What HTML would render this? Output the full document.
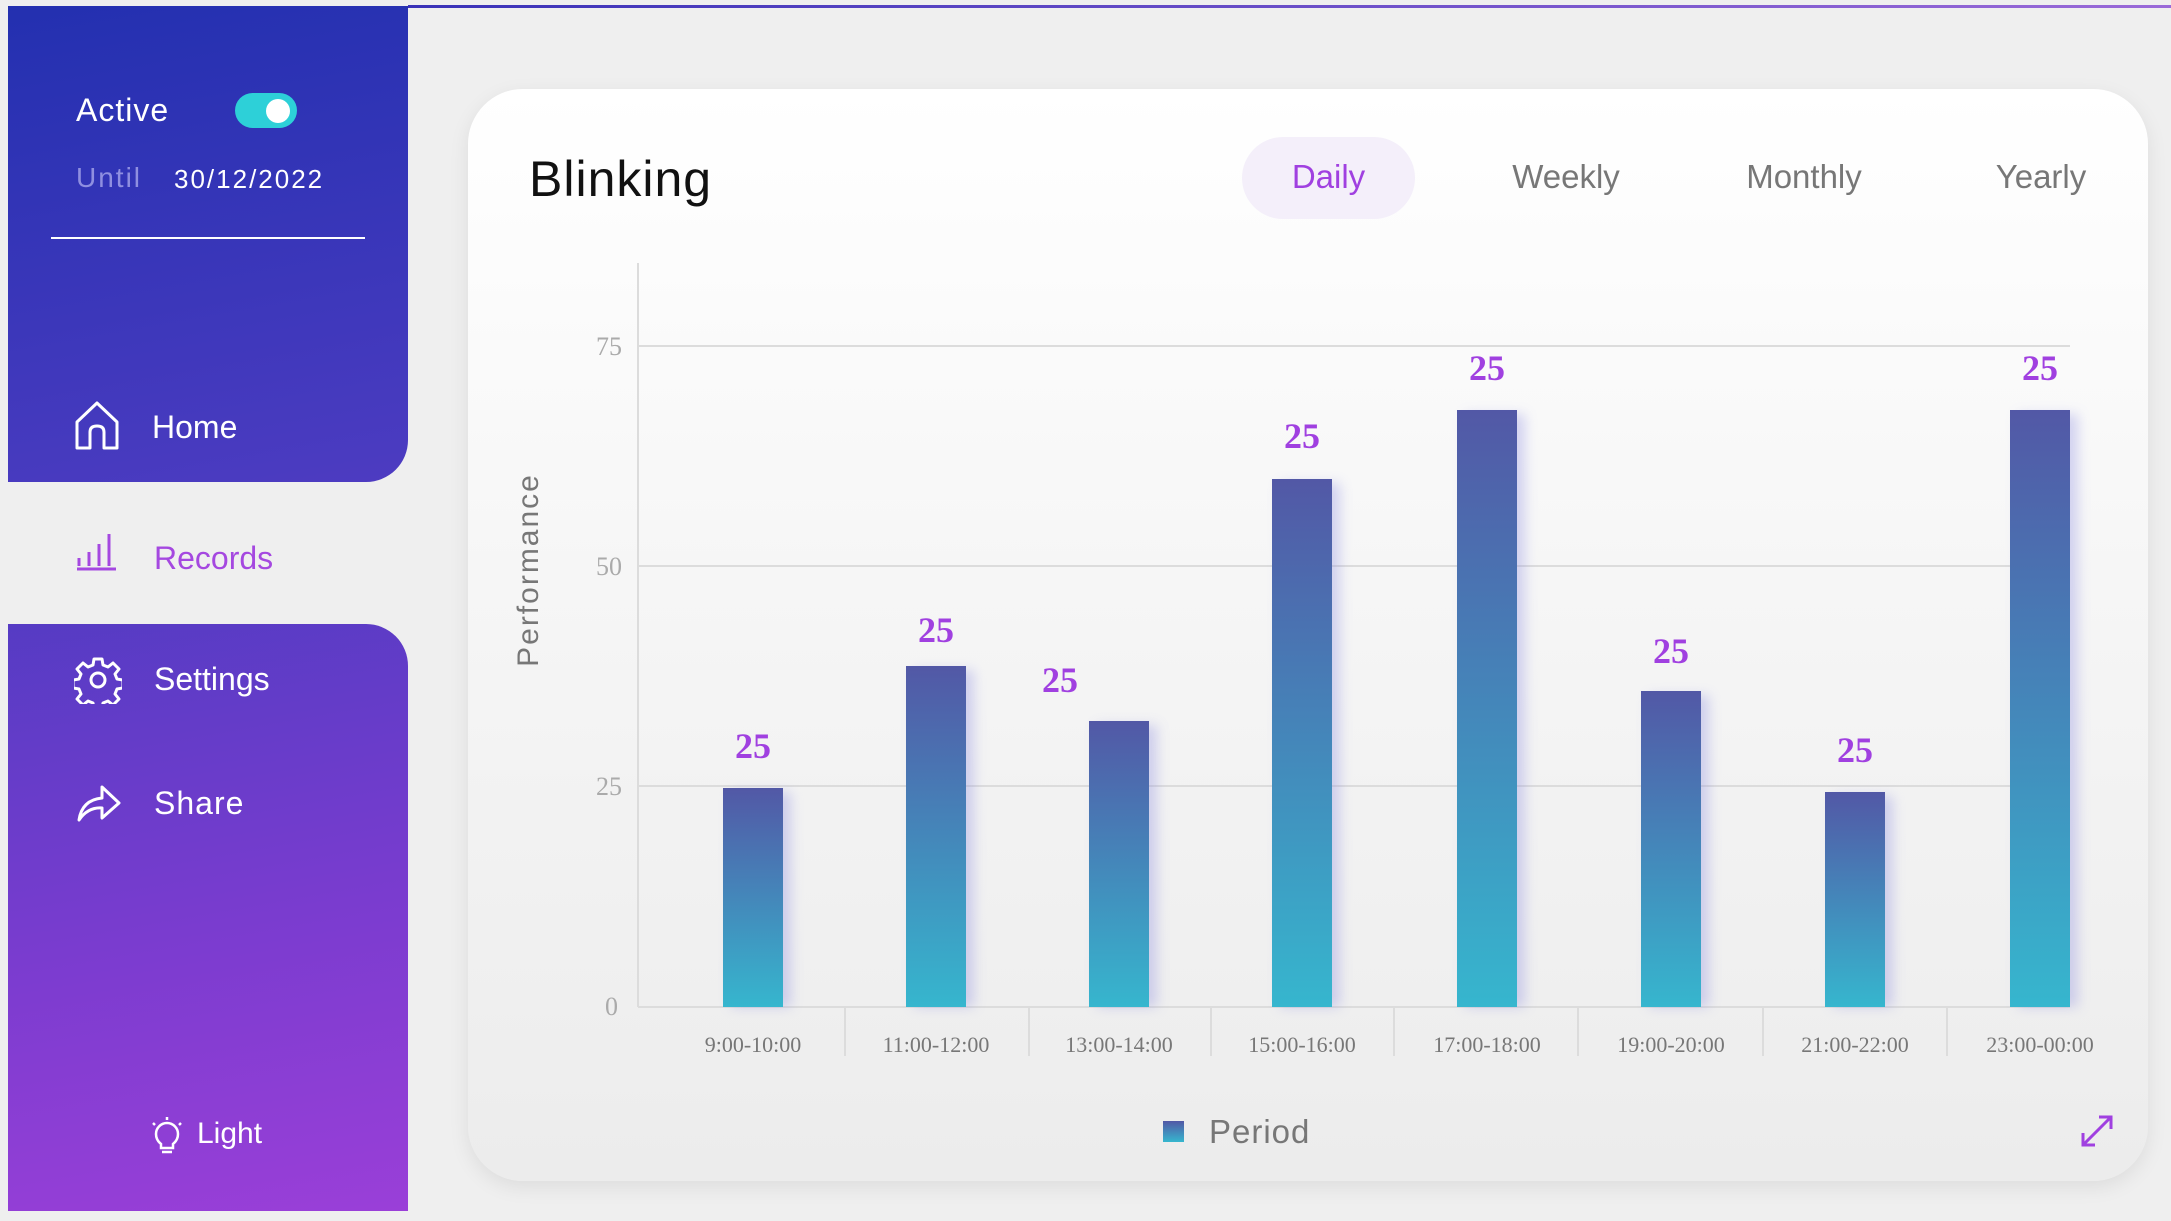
<!DOCTYPE html>
<html><head><meta charset="utf-8"><style>
*{margin:0;padding:0;box-sizing:border-box}
body{width:2171px;height:1221px;background:#efefef;position:relative;overflow:hidden;font-family:"Liberation Sans",sans-serif}
.abs{position:absolute}
.pan{background-image:linear-gradient(170deg,#2330b0 0%,#4a3bc0 40%,#7a3ccf 75%,#9a3fd8 100%);background-size:400px 1205px;background-repeat:no-repeat}
.w{color:#fff}
</style></head><body>
<div class="abs" style="left:408px;top:5px;width:1763px;height:3px;background:linear-gradient(90deg,#3a32b8,#9a6ad8)"></div>
<div class="abs pan" style="left:8px;top:6px;width:400px;height:476px;border-radius:0 0 42px 0;background-position:0 0"></div>
<div class="abs pan" style="left:8px;top:624px;width:400px;height:587px;border-radius:0 42px 0 0;background-position:0 -618px"></div>
<div class="abs w" style="left:76px;top:92px;font-size:32px;letter-spacing:1px">Active</div>
<div class="abs" style="left:235px;top:93px;width:62px;height:35px;border-radius:18px;background:#2dd0d8"></div>
<div class="abs" style="left:266px;top:99px;width:24px;height:24px;border-radius:50%;background:#fff"></div>
<div class="abs" style="left:76px;top:162px;font-size:28px;color:#8f8fe0;letter-spacing:2px">Until</div>
<div class="abs w" style="left:174px;top:164px;font-size:26px;letter-spacing:2px">30/12/2022</div>
<div class="abs" style="left:51px;top:237px;width:314px;height:2px;background:#fff"></div>
<svg class="abs" style="left:74px;top:400px" width="46" height="52" viewBox="0 0 46 52"><path d="M3 22 L23 3 L43 22 V48 H30 V32 Q30 26 23 26 Q16 26 16 32 V48 H3 Z" fill="none" stroke="#fff" stroke-width="3" stroke-linejoin="round"/></svg>
<div class="abs w" style="left:152px;top:409px;font-size:32px">Home</div>
<svg class="abs" style="left:76px;top:528px" width="42" height="44"><g stroke="#a548e0" stroke-width="3"><line x1="3" y1="30" x2="3" y2="38"/><line x1="13" y1="24" x2="13" y2="38"/><line x1="23" y1="16" x2="23" y2="38"/><line x1="33" y1="6" x2="33" y2="38"/><line x1="1" y1="41" x2="40" y2="41"/></g></svg>
<div class="abs" style="left:154px;top:540px;font-size:32px;color:#a548e0">Records</div>
<svg class="abs" style="left:74px;top:656px" width="48" height="48" viewBox="0 0 48 48"><circle cx="24" cy="24" r="7" fill="none" stroke="#fff" stroke-width="3"/><path d="M20 3h8l1 6 5 2 5-4 6 6-4 5 2 5 6 1v8l-6 1-2 5 4 5-6 6-5-4-5 2-1 6h-8l-1-6-5-2-5 4-6-6 4-5-2-5-6-1v-8l6-1 2-5-4-5 6-6 5 4 5-2z" fill="none" stroke="#fff" stroke-width="3" stroke-linejoin="round"/></svg>
<div class="abs w" style="left:154px;top:661px;font-size:32px">Settings</div>
<svg class="abs" style="left:76px;top:782px" width="46" height="42"><path d="M3 38 Q6 18 26 16 V5 L43 21 L26 36 V26 Q12 25 3 38 Z" fill="none" stroke="#fff" stroke-width="3" stroke-linejoin="round"/></svg>
<div class="abs w" style="left:154px;top:785px;font-size:32px;letter-spacing:1px">Share</div>
<svg class="abs" style="left:150px;top:1116px" width="34" height="40" viewBox="0 0 34 40"><g stroke="#fff" stroke-width="2.5" fill="none"><path d="M11 28 Q6 24 6 18 A11 11 0 0 1 28 18 Q28 24 23 28 V32 H11 Z"/><line x1="12" y1="36" x2="22" y2="36"/><line x1="17" y1="1" x2="17" y2="4"/><line x1="3" y1="7" x2="5" y2="9"/><line x1="31" y1="7" x2="29" y2="9"/></g></svg>
<div class="abs w" style="left:197px;top:1117px;font-size:30px">Light</div>
<!-- card -->
<div class="abs" style="left:468px;top:89px;width:1680px;height:1092px;border-radius:55px;background:linear-gradient(180deg,#ffffff 0%,#f5f5f5 50%,#ececec 100%);box-shadow:0 6px 20px rgba(0,0,0,0.08)"></div>
<div class="abs" style="left:529px;top:150px;font-size:50px;color:#111;letter-spacing:1px">Blinking</div>
<div class="abs" style="left:1242px;top:137px;width:173px;height:82px;border-radius:41px;background:#f4effa"></div>
<div class="abs" style="left:1242px;top:158px;width:173px;text-align:center;font-size:33px;color:#a040e0">Daily</div>
<div class="abs" style="left:1466px;top:158px;width:200px;text-align:center;font-size:33px;color:#777">Weekly</div>
<div class="abs" style="left:1704px;top:158px;width:200px;text-align:center;font-size:33px;color:#777">Monthly</div>
<div class="abs" style="left:1941px;top:158px;width:200px;text-align:center;font-size:33px;color:#777">Yearly</div>
<svg class="abs" style="left:0;top:0" width="2171" height="1221">
<defs>
<linearGradient id="g" x1="0" y1="0" x2="0" y2="1"><stop offset="0" stop-color="#5258a6"/><stop offset="1" stop-color="#36b6ce"/></linearGradient>
<filter id="s" x="-50%" y="-10%" width="200%" height="120%"><feGaussianBlur stdDeviation="6"/></filter>
</defs>
<g stroke="#dcdcdc" stroke-width="2">
<line x1="638" y1="263" x2="638" y2="1007"/>
<line x1="638" y1="346" x2="2070" y2="346"/>
<line x1="638" y1="566" x2="2070" y2="566"/>
<line x1="638" y1="786" x2="2070" y2="786"/>
<line x1="638" y1="1007" x2="2070" y2="1007"/>
<line x1="845" y1="1007" x2="845" y2="1056"/><line x1="1029" y1="1007" x2="1029" y2="1056"/><line x1="1211" y1="1007" x2="1211" y2="1056"/><line x1="1394" y1="1007" x2="1394" y2="1056"/><line x1="1578" y1="1007" x2="1578" y2="1056"/><line x1="1763" y1="1007" x2="1763" y2="1056"/><line x1="1947" y1="1007" x2="1947" y2="1056"/>
</g>
<g font-family="Liberation Serif,serif" font-size="26" fill="#aaa" text-anchor="end">
<text x="622" y="355">75</text><text x="622" y="575">50</text><text x="622" y="795">25</text><text x="618" y="1015">0</text>
</g>
<text transform="translate(538,570) rotate(-90)" text-anchor="middle" font-size="30" fill="#777" letter-spacing="2">Performance</text>
<g>
<rect x="731" y="792" width="60" height="215" fill="#8a8ae0" opacity="0.35" filter="url(#s)"/>
<rect x="914" y="670" width="60" height="337" fill="#8a8ae0" opacity="0.35" filter="url(#s)"/>
<rect x="1097" y="725" width="60" height="282" fill="#8a8ae0" opacity="0.35" filter="url(#s)"/>
<rect x="1280" y="483" width="60" height="524" fill="#8a8ae0" opacity="0.35" filter="url(#s)"/>
<rect x="1465" y="414" width="60" height="593" fill="#8a8ae0" opacity="0.35" filter="url(#s)"/>
<rect x="1649" y="695" width="60" height="312" fill="#8a8ae0" opacity="0.35" filter="url(#s)"/>
<rect x="1833" y="796" width="60" height="211" fill="#8a8ae0" opacity="0.35" filter="url(#s)"/>
<rect x="2018" y="414" width="60" height="593" fill="#8a8ae0" opacity="0.35" filter="url(#s)"/>
</g>
<g fill="url(#g)">
<rect x="723" y="788" width="60" height="219"/>
<rect x="906" y="666" width="60" height="341"/>
<rect x="1089" y="721" width="60" height="286"/>
<rect x="1272" y="479" width="60" height="528"/>
<rect x="1457" y="410" width="60" height="597"/>
<rect x="1641" y="691" width="60" height="316"/>
<rect x="1825" y="792" width="60" height="215"/>
<rect x="2010" y="410" width="60" height="597"/>
</g>
<g font-family="Liberation Serif,serif" font-size="36" font-weight="bold" fill="#a040e0" text-anchor="middle">
<text x="753" y="758">25</text><text x="936" y="642">25</text><text x="1060" y="692">25</text><text x="1302" y="448">25</text><text x="1487" y="380">25</text><text x="1671" y="663">25</text><text x="1855" y="762">25</text><text x="2040" y="380">25</text>
</g>
<g font-family="Liberation Serif,serif" font-size="22" fill="#777" text-anchor="middle">
<text x="753" y="1052">9:00-10:00</text><text x="936" y="1052">11:00-12:00</text><text x="1119" y="1052">13:00-14:00</text><text x="1302" y="1052">15:00-16:00</text><text x="1487" y="1052">17:00-18:00</text><text x="1671" y="1052">19:00-20:00</text><text x="1855" y="1052">21:00-22:00</text><text x="2040" y="1052">23:00-00:00</text>
</g>
<rect x="1163" y="1121" width="21" height="21" fill="url(#g)"/>
<text x="1209" y="1143" font-size="33" fill="#777" letter-spacing="1">Period</text>
<g stroke="#a040e0" stroke-width="3" fill="none"><line x1="2083" y1="1145" x2="2111" y2="1117"/><path d="M2083 1133 V1145 H2095"/><path d="M2099 1117 H2111 V1129"/></g>
</svg>
</body></html>
